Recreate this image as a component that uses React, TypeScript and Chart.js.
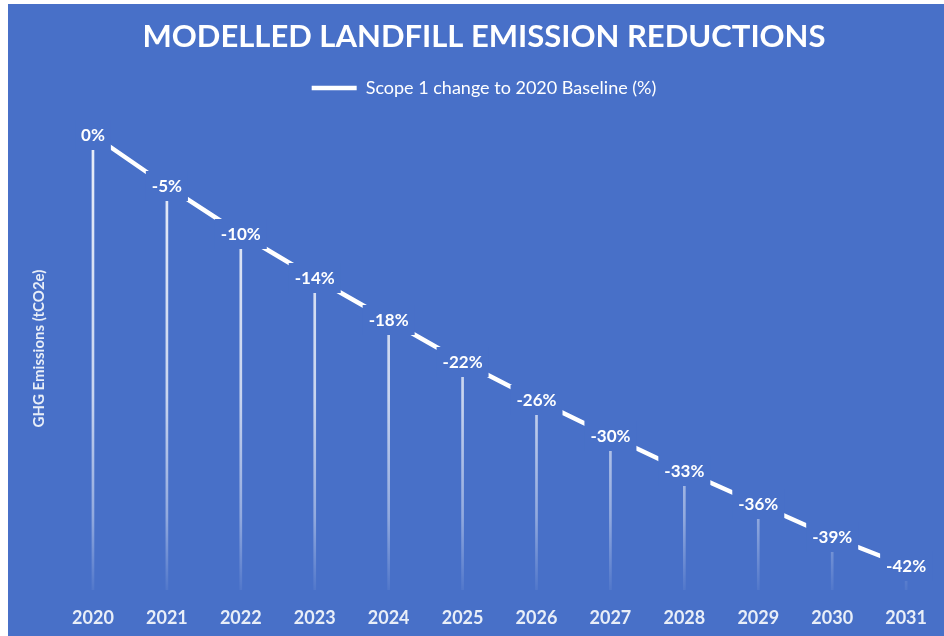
import React, { useEffect, useRef } from "react";
import { Chart, registerables } from "chart.js";

Chart.register(...registerables);

const categories = ["2020", "2021", "2022", "2023", "2024", "2025", "2026", "2027", "2028", "2029", "2030", "2031"];
// GHG emissions (tCO2e)
const emissions = [45500, 40400, 35600, 31200, 27000, 22800, 19000, 15400, 11900, 8600, 5300, 2400];
// Scope 1 change to 2020 baseline (%)
const scope1Change = [0, -5, -10, -14, -18, -22, -26, -30, -33, -36, -39, -42];

const TITLE = "MODELLED LANDFILL EMISSION REDUCTIONS";
const SERIES_NAME = "Scope 1 change to 2020 Baseline (%)";
const Y_TITLE = "GHG Emissions (tCO2e)";

const BG = "#4870C8";
const FONT = "Lato, 'Open Sans', sans-serif";

export default function App() {
  const ref = useRef<HTMLCanvasElement | null>(null);

  useEffect(() => {
    if (!ref.current) return;

    const bgPlugin = {
      id: "bgFill",
      beforeDraw(chart: any) {
        const c = chart.ctx;
        c.save();
        c.fillStyle = BG;
        c.fillRect(0, 0, chart.width, chart.height);
        c.restore();
      },
    };

    const labelPlugin = {
      id: "pointLabels",
      afterDatasetsDraw(chart: any) {
        const meta = chart.getDatasetMeta(0);
        const c = chart.ctx;
        c.save();
        c.font = `bold 17px ${FONT}`;
        c.textAlign = "center";
        c.textBaseline = "middle";
        meta.data.forEach((el: any, i: number) => {
          const txt = `${scope1Change[i]}%`;
          const w = c.measureText(txt).width;
          c.fillStyle = BG;
          c.fillRect(el.x - w / 2 - 6, el.y - 15, w + 12, 30);
          c.fillStyle = "#ffffff";
          c.fillText(txt, el.x, el.y + 1);
        });
        c.restore();
      },
    };

    const chart = new Chart(ref.current, {
      type: "bar",
      data: {
        labels: categories,
        datasets: [
          {
            type: "line",
            label: SERIES_NAME,
            data: emissions,
            borderColor: "#ffffff",
            backgroundColor: "#ffffff",
            borderWidth: 4.5,
            pointRadius: 0,
            fill: false,
            order: 1,
          } as any,
          {
            type: "bar",
            label: "drop",
            data: emissions,
            barThickness: 2,
            order: 2,
            backgroundColor: (ctx: any) => {
              const { chart } = ctx;
              const area = chart.chartArea;
              if (!area) return "rgba(255,255,255,0.7)";
              const g = chart.ctx.createLinearGradient(0, area.top, 0, area.bottom);
              g.addColorStop(0, "rgba(255,255,255,0.9)");
              g.addColorStop(0.6, "rgba(255,255,255,0.7)");
              g.addColorStop(0.85, "rgba(255,255,255,0.4)");
              g.addColorStop(1, "rgba(255,255,255,0.05)");
              return g;
            },
          } as any,
        ],
      },
      options: {
        animation: false,
        responsive: true,
        maintainAspectRatio: false,
        layout: { padding: { left: 16, right: 0, top: 0, bottom: 7 } },
        plugins: {
          tooltip: { enabled: false },
          title: {
            display: true,
            text: TITLE,
            color: "#ffffff",
            font: { family: FONT, size: 31, weight: "bold" },
            padding: { top: 14, bottom: 13.8 },
          },
          legend: {
            display: true,
            position: "top",
            labels: {
              filter: (item: any) => item.datasetIndex === 0,
              usePointStyle: true,
              pointStyle: "line",
              pointStyleWidth: 45,
              color: "#ffffff",
              font: { family: FONT, size: 18 },
              padding: 10,
            },
          },
        },
        scales: {
          x: {
            offset: true,
            grid: { display: false, drawTicks: false },
            border: { display: false },
            ticks: {
              color: "#e8eef8",
              font: { family: FONT, size: 18, weight: "bold" },
              padding: 17,
            },
            afterFit: (scale: any) => {
              scale.height = 39;
            },
          },
          y: {
            min: 0,
            max: 48300,
            grid: { display: false, drawTicks: false },
            border: { display: false },
            ticks: { display: false },
            title: {
              display: true,
              text: Y_TITLE,
              color: "#e8eef8",
              font: { family: FONT, size: 15, weight: "bold" },
              padding: { top: 6, bottom: 8 },
            },
          },
        },
      },
      plugins: [bgPlugin, labelPlugin],
    });

    return () => chart.destroy();
  }, []);

  return (
    <div
      style={{
        position: "absolute",
        left: 8,
        top: 4,
        width: 936,
        height: 632,
        background: BG,
      }}
    >
      <canvas ref={ref} />
    </div>
  );
}
